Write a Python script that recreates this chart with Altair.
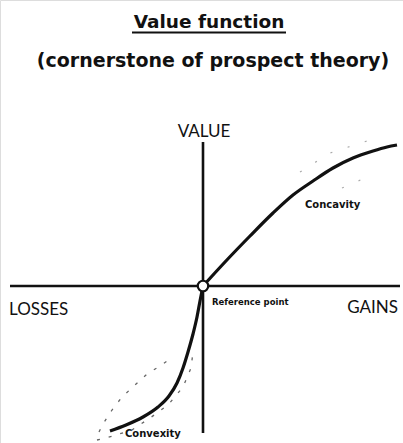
import altair as alt
import pandas as pd

# Value function: outcome (losses < 0 < gains) against subjective value
loss_outcome = [0, -3, -6, -10, -15, -20, -26, -34, -45, -60, -77, -93]
loss_value = [0, -15, -31, -48, -66, -82, -97, -110, -121, -131, -139, -145]
gain_outcome = [0, 22, 47, 70, 90, 110, 130, 150, 170, 184, 194]
gain_value = [0, 24, 50, 73, 91, 105, 118, 128, 135, 139, 141]

# Faint alternative shapes sketched around the curve
alt_upper_x = [-104, -100, -91, -81, -68, -56, -43, -30]
alt_upper_y = [-146, -138, -124, -111, -99, -88, -80, -71]
alt_lower_x = [-106, -90, -71, -53, -35, -20, -12, -10]
alt_lower_y = [-154, -150, -144, -132, -119, -101, -82, -66]
gain_upper_x = [97, 127, 167]
gain_upper_y = [114, 133, 146]
gain_lower_x = [139, 169]
gain_lower_y = [98, 111]

# Axis extents
x_axis_ends = [-193, 197]
y_axis_ends = [-147, 144]

W, H = 403, 443
xs = alt.Scale(domain=[-203, 200], zero=False, nice=False)
ys = alt.Scale(domain=[-157, 286], zero=False, nice=False)
X = lambda f: alt.X(f, type="quantitative", scale=xs, axis=None)
Y = lambda f: alt.Y(f, type="quantitative", scale=ys, axis=None)

curve_df = pd.concat([
    pd.DataFrame({"x": loss_outcome, "y": loss_value, "side": "loss", "i": range(len(loss_outcome))}),
    pd.DataFrame({"x": gain_outcome, "y": gain_value, "side": "gain", "i": range(len(gain_outcome))}),
])
loss_alt = pd.concat([
    pd.DataFrame({"x": alt_upper_x, "y": alt_upper_y, "g": "a"}),
    pd.DataFrame({"x": alt_lower_x, "y": alt_lower_y, "g": "b"}),
])
gain_alt = pd.concat([
    pd.DataFrame({"x": gain_upper_x, "y": gain_upper_y, "g": "c"}),
    pd.DataFrame({"x": gain_lower_x, "y": gain_lower_y, "g": "d"}),
])

h_axis = alt.Chart(pd.DataFrame({"x": [x_axis_ends[0]], "x2": [x_axis_ends[1]], "y": [0]})).mark_rule(
    strokeWidth=2.6, color="#111").encode(x=X("x"), x2="x2", y=Y("y"))
v_axis = alt.Chart(pd.DataFrame({"y": [y_axis_ends[0]], "y2": [y_axis_ends[1]], "x": [0]})).mark_rule(
    strokeWidth=2.6, color="#111").encode(y=Y("y"), y2="y2", x=X("x"))

loss_dashes = alt.Chart(loss_alt).mark_line(
    color="#666", strokeWidth=1.3, strokeDash=[3, 9]
).encode(x=X("x"), y=Y("y"), detail="g:N", order="x:Q")
gain_dashes = alt.Chart(gain_alt).mark_line(
    color="#aaa", strokeWidth=1.2, strokeDash=[2, 16]
).encode(x=X("x"), y=Y("y"), detail="g:N", order="x:Q")

curve = alt.Chart(curve_df).mark_line(
    color="#111", strokeWidth=3.2, interpolate="monotone"
).encode(x=X("x"), y=Y("y"), detail="side:N", order="i:Q")

origin = alt.Chart(pd.DataFrame({"x": [0], "y": [0]})).mark_point(
    shape="circle", size=110, filled=True, fill="white", stroke="#111", strokeWidth=2.2, opacity=1
).encode(x=X("x"), y=Y("y"))

# Axis captions
axis_labels = pd.DataFrame({
    "x": [1, -194, 195],
    "y": [149, -29, -27],
    "t": ["VALUE", "LOSSES", "GAINS"],
    "a": ["center", "left", "right"],
})
def caption(row):
    return alt.Chart(pd.DataFrame([row])).mark_text(
        font="Lato", fontSize=17, align=row["a"], baseline="alphabetic", color="#111"
    ).encode(x=X("x"), y=Y("y"), text="t:N")
captions = [caption(r) for r in axis_labels.to_dict("records")]

notes = pd.DataFrame({
    "x": [9, 102, -78],
    "y": [-19, 78, -151],
    "t": ["Reference point", "Concavity", "Convexity"],
    "s": [8.5, 10, 10],
})
def note(row):
    return alt.Chart(pd.DataFrame([row])).mark_text(
        font="DejaVu Sans", fontWeight="bold", fontSize=row["s"], align="left",
        baseline="alphabetic", color="#111"
    ).encode(x=X("x"), y=Y("y"), text="t:N")
note_layers = [note(r) for r in notes.to_dict("records")]

title = alt.Chart(pd.DataFrame({"t": ["Value function"]})).mark_text(
    font="DejaVu Sans", fontWeight="bold", fontSize=18.5, align="center", baseline="alphabetic", color="#111"
).encode(x=alt.value(209), y=alt.value(28), text="t:N")
underline = alt.Chart(pd.DataFrame({"a": [0]})).mark_rule(color="#111", strokeWidth=2).encode(
    x=alt.value(132), x2=alt.value(286), y=alt.value(32.5))
subtitle = alt.Chart(pd.DataFrame({"t": ["(cornerstone of prospect theory)"]})).mark_text(
    font="DejaVu Sans", fontWeight="bold", fontSize=19, align="center", baseline="alphabetic", color="#111"
).encode(x=alt.value(213), y=alt.value(67), text="t:N")

chart = alt.layer(
    h_axis, v_axis, loss_dashes, gain_dashes, curve, origin,
    *captions, *note_layers, title, underline, subtitle
).properties(
    width=W, height=H, padding=0, autosize=alt.AutoSizeParams(type="none")
).configure_view(stroke=None).configure(background="white")

chart.save("out.html", embed_options={"renderer": "svg", "actions": False})
